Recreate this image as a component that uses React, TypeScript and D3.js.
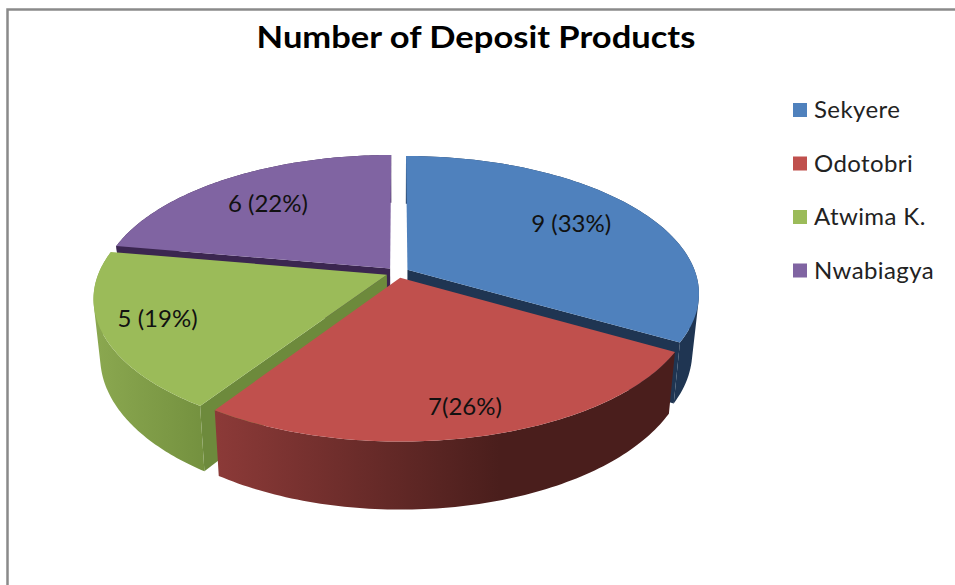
import React from "react";
import * as d3 from "d3";

// Deposit product counts per bank
const categories = ["Sekyere", "Odotobri", "Atwima K.", "Nwabiagya"];
const productCounts = [9, 7, 5, 6];
const sliceLabels = ["9 (33%)", "7(26%)", "5 (19%)", "6 (22%)"];
const chartTitle = "Number of Deposit Products";

const topColors = ["#4f81bd", "#c0504d", "#9bbb59", "#8064a2"];
const cutColors = ["#1f3552", "#4a1e1c", "#6d8a3c", "#3b2650"];
const wallStops = [
  ["#1f3552", "#1f3552"],
  ["#8c3a38", "#4a1e1c"],
  ["#8ba850", "#74913f"],
  ["#3b2650", "#3b2650"],
];

const WIDTH = 955;
const HEIGHT = 585;
const FONT = "Lato, 'Open Sans', sans-serif";

// Perspective model of the pie disc
const cx = 397.5;
const cy = 272.5;
const rx = 288;
const ry = 134;
const persp = 0.17;
const explode = 0.04;
const thickness = 56;
const bottomShrink = 0.978;

// Slices are stacked back to front so nearer walls cover farther ones
const paintOrder = [3, 0, 2, 1];
const labelRadius = [0.7, 0.83, 0.815, 0.73];
const labelBaseline = [6, 10, 6, 11];

type Pt = [number, number];

const topPoint = (X: number, Y: number): Pt => {
  const s = 1 / (1 - persp * Y);
  return [cx + rx * X * s, cy + ry * Y * s];
};

const bottomPoint = (X: number, Y: number): Pt => {
  const s = 1 / (1 - persp * Y);
  return [cx + rx * X * s * bottomShrink, cy + ry * Y * s + thickness * s];
};

const slices = d3
  .pie<number>()
  .sort(null)
  .startAngle(0)
  .endAngle(2 * Math.PI)(productCounts);

const line = d3.line<Pt>();

// One winding direction for every quad, so overlaps at the rim's turning point stay filled
const wound = (quad: Pt[]): Pt[] =>
  d3.polygonArea(quad) < 0 ? quad.slice().reverse() : quad;

function buildSlice(i: number) {
  const { startAngle: a0, endAngle: a1 } = slices[i];
  const mid = (a0 + a1) / 2;
  const ox = explode * Math.sin(mid);
  const oy = -explode * Math.cos(mid);
  const steps = 90;
  const angles = d3.range(steps + 1).map((k) => a0 + ((a1 - a0) * k) / steps);
  const rim = angles.map((a): [number, number] => [ox + Math.sin(a), oy - Math.cos(a)]);
  const topRim = rim.map(([X, Y]) => topPoint(X, Y));
  const botRim = rim.map(([X, Y]) => bottomPoint(X, Y));
  const apexTop = topPoint(ox, oy);
  const apexBot = bottomPoint(ox, oy);
  const face = line([apexTop, ...topRim])! + "Z";
  const wall = d3
    .range(steps)
    .map((k) => line(wound([topRim[k], topRim[k + 1], botRim[k + 1], botRim[k]]))! + "Z")
    .join("");
  // A cut face is seen only when its outward normal points toward the viewer
  const cuts: string[] = [];
  if (Math.sin(a0) < -1e-6) cuts.push(line([apexTop, topRim[0], botRim[0], apexBot])! + "Z");
  if (Math.sin(a1) > 1e-6) cuts.push(line([apexTop, topRim[steps], botRim[steps], apexBot])! + "Z");
  const r = labelRadius[i];
  const label = topPoint(ox + r * Math.sin(mid), oy - r * Math.cos(mid));
  const xs = [...topRim, ...botRim].map((p) => p[0]);
  return { face, wall, cuts, label, x0: d3.min(xs)!, x1: d3.max(xs)! };
}

const built = categories.map((_, i) => buildSlice(i));

const legendY = d3
  .scalePoint<string>()
  .domain(categories)
  .range([110, 270.5]);

export default function App() {
  return (
    <svg
      width={WIDTH}
      height={HEIGHT}
      viewBox={`0 0 ${WIDTH} ${HEIGHT}`}
      style={{ position: "absolute", left: 0, top: 0, background: "#fff" }}
    >
      <defs>
        {built.map((b, i) => (
          <linearGradient
            key={i}
            id={`wall-${i}`}
            gradientUnits="userSpaceOnUse"
            x1={b.x0}
            x2={i === 1 ? b.x0 + (b.x1 - b.x0) * 0.62 : b.x1}
            y1={0}
            y2={0}
          >
            <stop offset="0" stopColor={wallStops[i][0]} />
            <stop offset="1" stopColor={wallStops[i][1]} />
          </linearGradient>
        ))}
      </defs>

      <path d={`M955,9.5H7.5V585`} fill="none" stroke="#8a8a8a" strokeWidth={2.5} />

      <text
        transform="translate(476,48) scale(1.114,1)"
        textAnchor="middle"
        fontFamily={FONT}
        fontWeight={700}
        fontSize={31}
        fill="#000"
      >
        {chartTitle}
      </text>

      {paintOrder.map((i) => (
        <g key={i}>
          {built[i].cuts.map((d, k) => (
            <path key={k} d={d} fill={cutColors[i]} />
          ))}
          <path d={built[i].wall} fill={`url(#wall-${i})`} />
          <path d={built[i].face} fill={topColors[i]} />
        </g>
      ))}

      {paintOrder.map((i) => (
        <text
          key={i}
          x={built[i].label[0]}
          y={built[i].label[1] + labelBaseline[i]}
          textAnchor="middle"
          fontFamily={FONT}
          fontSize={24}
          fill="#111"
        >
          {sliceLabels[i]}
        </text>
      ))}

      {categories.map((c, i) => (
        <g key={c}>
          <rect x={793} y={legendY(c)! - 7} width={14} height={14} fill={topColors[i]} />
          <text
            x={814}
            y={legendY(c)! + 8}
            fontFamily={FONT}
            fontSize={24}
            letterSpacing={0.4}
            fill="#222"
          >
            {c}
          </text>
        </g>
      ))}
    </svg>
  );
}
